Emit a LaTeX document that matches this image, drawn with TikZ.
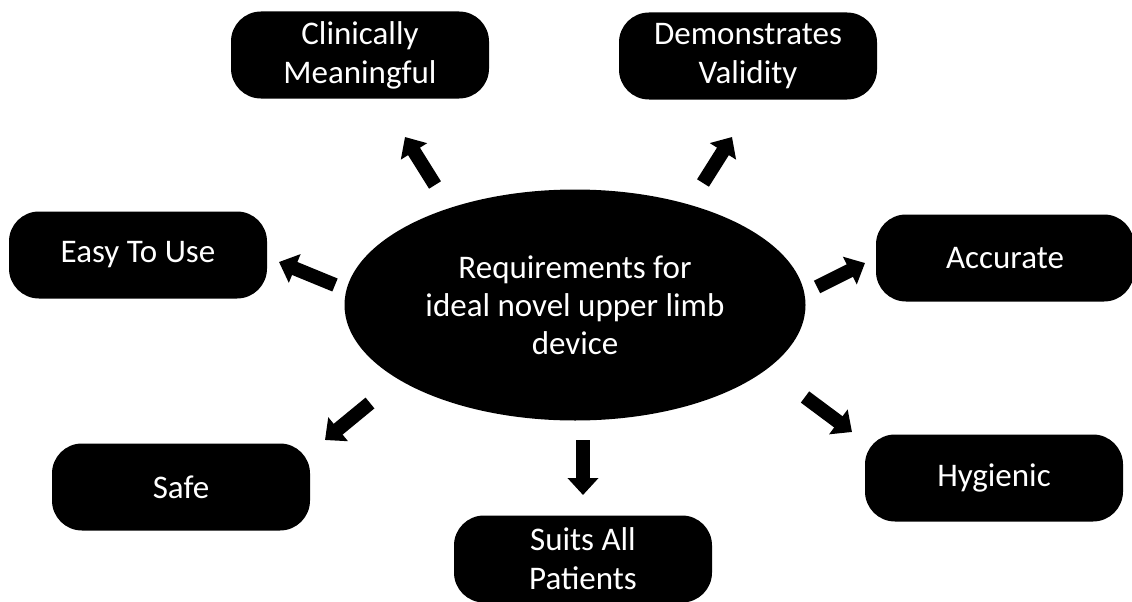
\documentclass[tikz,border=0pt]{standalone}
\usepackage{fontspec}
\setmainfont{Carlito}
\usetikzlibrary{arrows.meta,shapes.geometric}
\begin{document}
\begin{tikzpicture}[x=1pt,y=-1pt,
  box/.style={fill=black,rounded corners=30pt,minimum width=258pt,minimum height=87pt,inner sep=0pt,text=white,align=center,font=\fontsize{33}{39}\selectfont},
  blk/.style={line width=14pt,-{Triangle[width=30pt,length=17pt]},shorten >=0pt}]
\useasboundingbox (0,0) rectangle (1132,602);
\node[ellipse,fill=black,minimum width=461pt,minimum height=231pt,inner sep=0pt,text=white,align=center,font=\fontsize{33}{38}\selectfont] (c) at (575,305) {Requirements for\\ideal novel upper limb\\device};
\node[box] (cm) at (360,55) {Clinically\\Meaningful};
\node[box] (dv) at (748,56) {Demonstrates\\Validity};
\node[box] (eu) at (138,255) {Easy To Use};
\node[box] (ac) at (1005,258) {Accurate};
\node[box] (sf) at (181,487) {Safe};
\node[box] (sp) at (583,559) {Suits All\\Patients};
\node[box] (hy) at (994,478) {Hygienic};
\coordinate (t1) at (435,185); \coordinate (h1) at (405,137);
\coordinate (t2) at (703,183); \coordinate (h2) at (732,137);
\coordinate (t3) at (335,285); \coordinate (h3) at (279,262);
\coordinate (t4) at (817,287); \coordinate (h4) at (865,263);
\coordinate (t5) at (370,403); \coordinate (h5) at (325,440);
\coordinate (t6) at (583,440); \coordinate (h6) at (583,495);
\coordinate (t7) at (805,397); \coordinate (h7) at (852,432);
\foreach \i in {1,...,7} \draw[blk] (t\i) -- (h\i);
\end{tikzpicture}
\end{document}
